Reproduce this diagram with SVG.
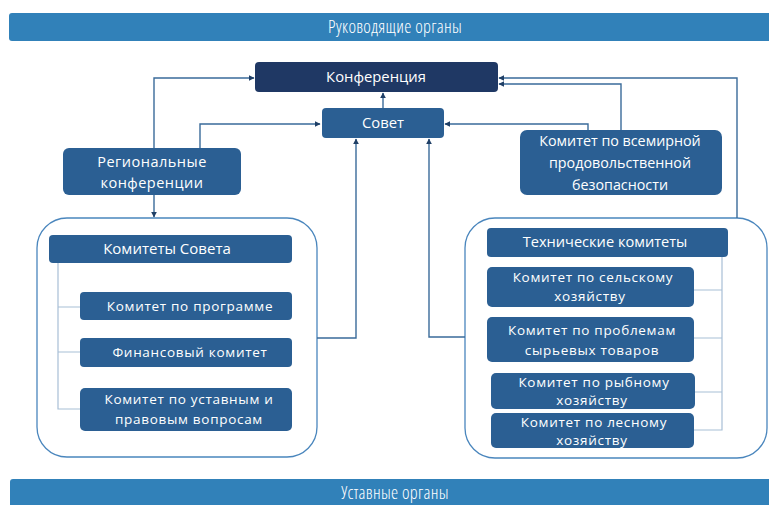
<svg xmlns="http://www.w3.org/2000/svg" width="769" height="505" viewBox="0 0 769 505">
<defs>
<style>
.banner{fill:#3181b9}
.btxt{font-family:"Open Sans","Liberation Sans",sans-serif;font-size:18px;font-weight:300;fill:#ffffff;text-anchor:middle;font-stretch:condensed;letter-spacing:0.3px}
.box{fill:#2b5f93}
.dark{fill:#1f3864}
.t{font-family:"Open Sans","Liberation Sans",sans-serif;font-size:13.5px;fill:#ffffff;text-anchor:middle}
.cont{fill:#ffffff;stroke:#4a86bd;stroke-width:1.3}
.tree{fill:none;stroke:#a8bfd6;stroke-width:1.2}
.conn{fill:none;stroke:#3a6b9a;stroke-width:1.4}
</style>
<marker id="ah" viewBox="0 0 10 10" refX="9" refY="5" markerWidth="6" markerHeight="6" orient="auto" markerUnits="userSpaceOnUse">
<path d="M0,0 L10,5 L0,10 Z" fill="#1f3f66"/>
</marker>
</defs>

<g id="banner-top">
<rect class="banner" x="9" y="13" width="775" height="28" rx="3"/>
<text class="btxt" x="395" y="33">Руководящие органы</text>
</g>
<g id="banner-bottom">
<rect class="banner" x="10" y="479" width="775" height="40" rx="3"/>
<text class="btxt" x="395" y="499">Уставные органы</text>
</g>

<g id="container-left">
<rect class="cont" x="37" y="218" width="280" height="239" rx="30"/>
</g>
<g id="container-right">
<rect class="cont" x="465" y="218" width="302" height="240" rx="30"/>
</g>

<g id="trees">
<path class="tree" d="M58,263 V409 H80 M58,307 H80 M58,352 H80"/>
<path class="tree" d="M722,257 V430 H694 M722,290 H694 M722,338 H694 M722,392 H695"/>
</g>

<g id="connectors">
<path class="conn" d="M154,148 V78 H254" marker-end="url(#ah)"/>
<path class="conn" d="M200,148 V124 H320" marker-end="url(#ah)"/>
<path class="conn" d="M154,195 V217" marker-end="url(#ah)"/>
<path class="conn" d="M383,108 V93" marker-end="url(#ah)"/>
<path class="conn" d="M317,338 H356 V139" marker-end="url(#ah)"/>
<path class="conn" d="M465,337 H429 V139" marker-end="url(#ah)"/>
<path class="conn" d="M588,130 V124 H445" marker-end="url(#ah)"/>
<path class="conn" d="M621,130 V84 H499" marker-end="url(#ah)"/>
<path class="conn" d="M737,218 V78 H499" marker-end="url(#ah)"/>
</g>

<g id="konferenciya">
<rect class="dark" x="255" y="62" width="243" height="30" rx="4"/>
<text class="t" x="376" y="82" style="font-size:14.8px">Конференция</text>
</g>
<g id="sovet">
<rect class="box" x="322" y="108" width="122" height="30" rx="4"/>
<text class="t" x="383" y="128" style="font-size:14.8px">Совет</text>
</g>
<g id="regionalnye">
<rect class="box" x="63" y="148" width="178" height="47" rx="6"/>
<text class="t" x="152" y="167" style="font-size:14.5px;letter-spacing:0.5px">Региональные</text>
<text class="t" x="152" y="188" style="font-size:14.5px;letter-spacing:0.5px">конференции</text>
</g>
<g id="kvpb">
<rect class="box" x="520" y="130" width="202" height="65" rx="7"/>
<text class="t" x="620" y="146" style="font-size:14.3px">Комитет по всемирной</text>
<text class="t" x="620" y="168" style="font-size:14.3px">продовольственной</text>
<text class="t" x="620" y="190" style="font-size:14.3px">безопасности</text>
</g>

<g id="komitety-soveta">
<rect class="box" x="49" y="235" width="243" height="28" rx="4"/>
<text class="t" x="167" y="254" style="font-size:15px">Комитеты Совета</text>
</g>
<g id="k-programme">
<rect class="box" x="80" y="292" width="212" height="28" rx="4"/>
<text class="t" x="190" y="311" style="letter-spacing:0.7px">Комитет по программе</text>
</g>
<g id="k-finance">
<rect class="box" x="80" y="338" width="212" height="29" rx="4"/>
<text class="t" x="190" y="357" style="letter-spacing:0.7px">Финансовый комитет</text>
</g>
<g id="k-ustav">
<rect class="box" x="80" y="388" width="212" height="43" rx="5"/>
<text class="t" x="189" y="404" style="letter-spacing:0.7px">Комитет по уставным и</text>
<text class="t" x="189" y="424" style="letter-spacing:0.7px">правовым вопросам</text>
</g>

<g id="tech">
<rect class="box" x="487" y="228" width="241" height="29" rx="4"/>
<text class="t" x="605" y="247" style="font-size:14.6px">Технические комитеты</text>
</g>
<g id="k-selsk">
<rect class="box" x="487" y="267" width="207" height="40" rx="5"/>
<text class="t" x="593" y="282" style="letter-spacing:0.7px">Комитет по сельскому</text>
<text class="t" x="590" y="301" style="letter-spacing:0.7px">хозяйству</text>
</g>
<g id="k-syrye">
<rect class="box" x="487" y="317" width="207" height="45" rx="5"/>
<text class="t" x="592" y="335" style="letter-spacing:0.7px">Комитет по проблемам</text>
<text class="t" x="592" y="355" style="letter-spacing:0.7px">сырьевых товаров</text>
</g>
<g id="k-ryba">
<rect class="box" x="491" y="373" width="204" height="36" rx="5"/>
<text class="t" x="594" y="387" style="letter-spacing:0.7px">Комитет по рыбному</text>
<text class="t" x="592" y="405" style="letter-spacing:0.7px">хозяйству</text>
</g>
<g id="k-les">
<rect class="box" x="491" y="413" width="203" height="35" rx="5"/>
<text class="t" x="594" y="427" style="letter-spacing:0.7px">Комитет по лесному</text>
<text class="t" x="592" y="445" style="letter-spacing:0.7px">хозяйству</text>
</g>
</svg>
